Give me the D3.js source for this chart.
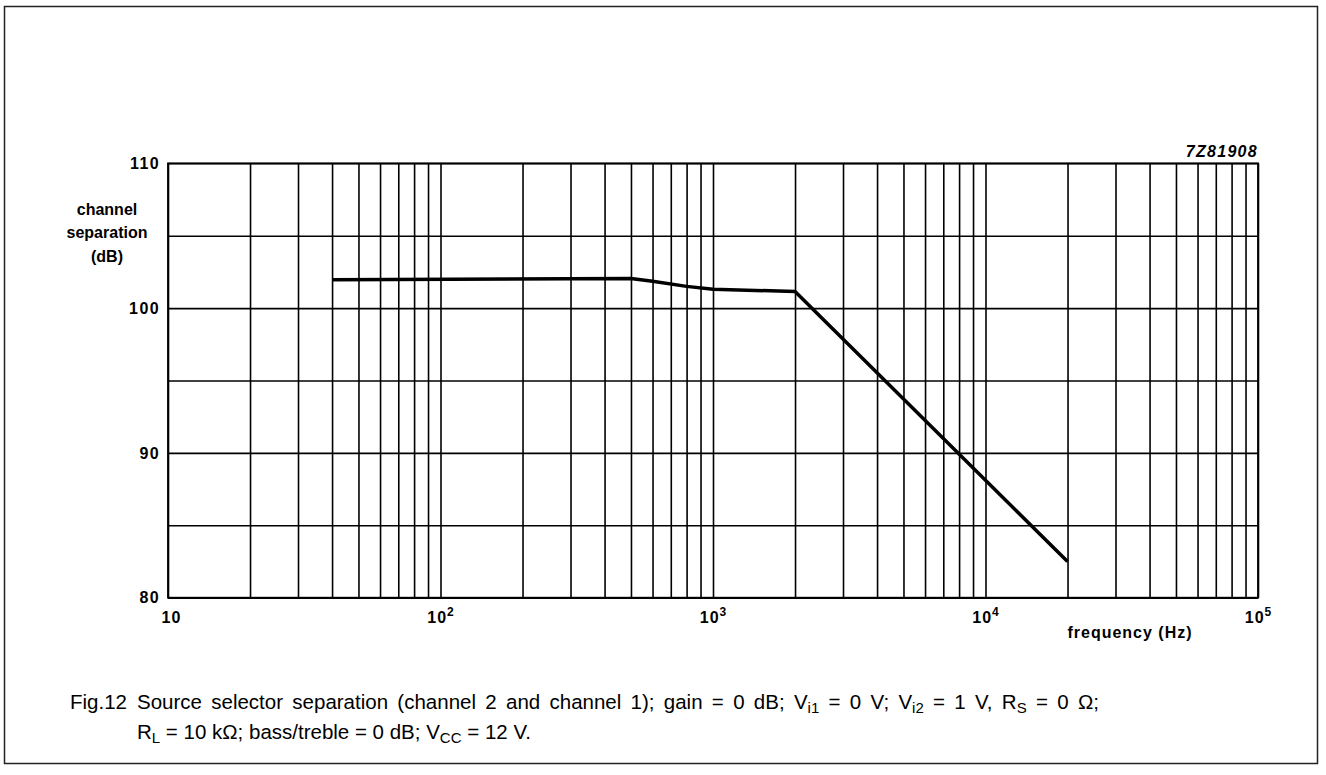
<!doctype html>
<html>
<head>
<meta charset="utf-8">
<title>Source selector separation</title>
<script src="https://cdn.jsdelivr.net/npm/d3@7"></script>
<style>
  body { margin: 0; background: #fff; }
  svg text { font-family: "Liberation Sans", Arial, Helvetica, sans-serif; fill: #000; }
</style>
</head>
<body>
<div id="chart-area"></div>
<script>
  // data
  var freq = [40, 500, 600, 800, 1000, 2000, 20000];
  var separation = [101.95, 102.05, 101.85, 101.5, 101.3, 101.15, 82.5];
  var yLabels = [80, 90, 100, 110];
  var yGridValues = [80, 85, 90, 95, 100, 105, 110];
  var xDecades = [10, 100, 1000, 10000, 100000];
  var xExponents = [1, 2, 3, 4, 5];

  var W = 1326, H = 775;
  var margin = {left: 168, top: 163.3, right: W - 1258, bottom: H - 597.7};
  var width = W - margin.left - margin.right;
  var height = H - margin.top - margin.bottom;

  var svg = d3.select('#chart-area').append('svg')
      .attr('width', W)
      .attr('height', H);

  // outer frame
  svg.append('rect')
      .attr('x', 4.5).attr('y', 6.5)
      .attr('width', 1313).attr('height', 757)
      .attr('fill', 'none')
      .attr('stroke', '#222')
      .attr('stroke-width', 1.5);

  var g = svg.append('g')
      .attr('transform', 'translate(' + margin.left + ',' + margin.top + ')');

  var x = d3.scaleLog().domain([10, 100000]).range([0, width]);
  var y = d3.scaleLinear().domain([80, 110]).range([height, 0]);

  // vertical grid (1..9 per decade)
  var xGrid = g.append('g')
      .attr('transform', 'translate(0,' + height + ')')
      .call(d3.axisBottom(x).ticks(40).tickSize(-height).tickFormat(''));
  xGrid.select('.domain').remove();
  xGrid.selectAll('line').attr('stroke', '#000').attr('stroke-width', 1.6);

  // horizontal grid every 5 dB
  var yGrid = g.append('g')
      .call(d3.axisLeft(y).tickValues(yGridValues).tickSize(-width).tickFormat(''));
  yGrid.select('.domain').remove();
  yGrid.selectAll('line').attr('stroke', '#000').attr('stroke-width', 1.6);

  // plot border
  g.append('rect')
      .attr('width', width).attr('height', height)
      .attr('fill', 'none')
      .attr('stroke', '#000')
      .attr('stroke-width', 1.8);

  // y labels
  var yAxis = g.append('g')
      .call(d3.axisLeft(y).tickValues(yLabels).tickSize(0).tickPadding(8));
  yAxis.select('.domain').remove();
  yAxis.selectAll('text')
      .attr('font-size', '16px')
      .attr('font-weight', 'bold')
      .attr('letter-spacing', '1.4px')
      .attr('font-family', '"Liberation Sans", Arial, sans-serif');

  // x labels 10, 10^2 ...
  var xAxis = g.append('g')
      .attr('transform', 'translate(0,' + height + ')')
      .call(d3.axisBottom(x).tickValues(xDecades).tickSize(0).tickPadding(14).tickFormat(''));
  xAxis.select('.domain').remove();
  xAxis.selectAll('.tick text').each(function(d, i) {
    var t = d3.select(this)
        .attr('font-size', '16px')
        .attr('font-weight', 'bold')
        .attr('letter-spacing', '1px')
        .attr('font-family', '"Liberation Sans", Arial, sans-serif');
    t.append('tspan').text('10');
    if (xExponents[i] > 1) {
      t.append('tspan')
          .attr('font-size', '12px')
          .attr('dy', '-7')
          .text(xExponents[i]);
    } else {
      t.attr('dx', 3);
    }
  });

  // axis titles
  var yTitle = g.append('text')
      .attr('text-anchor', 'middle')
      .attr('font-size', '16px')
      .attr('font-weight', 'bold');
  ['channel', 'separation', '(dB)'].forEach(function(s, i) {
    yTitle.append('tspan')
        .attr('x', 107 - margin.left)
        .attr('y', 215 - margin.top + i * 23.5)
        .text(s);
  });

  g.append('text')
      .attr('x', 1130 - margin.left)
      .attr('y', 638 - margin.top)
      .attr('text-anchor', 'middle')
      .attr('font-size', '16px')
      .attr('font-weight', 'bold')
      .attr('letter-spacing', '1px')
      .text('frequency (Hz)');

  g.append('text')
      .attr('x', width)
      .attr('y', -6)
      .attr('text-anchor', 'end')
      .attr('font-size', '16px')
      .attr('font-weight', 'bold')
      .attr('font-style', 'italic')
      .attr('letter-spacing', '1.3px')
      .text('7Z81908');

  // curve
  var pts = freq.map(function(f, i) { return [f, separation[i]]; });
  var line = d3.line()
      .x(function(d) { return x(d[0]); })
      .y(function(d) { return y(d[1]); });
  g.append('path')
      .datum(pts)
      .attr('d', line)
      .attr('fill', 'none')
      .attr('stroke', '#000')
      .attr('stroke-width', 3.5)
      .attr('stroke-linejoin', 'round');

  // caption (first line justified, so a bit wider word spacing)
  var cap = svg.append('g').attr('font-size', '20.5px');
  var c1 = cap.append('text').attr('x', 70).attr('y', 709);
  c1.append('tspan').text('Fig.12');
  var c1b = c1.append('tspan').attr('x', 137).attr('word-spacing', '3.6px');
  c1b.append('tspan').text('Source selector separation (channel 2 and channel 1); gain = 0 dB; V');
  c1b.append('tspan').attr('font-size', '15px').attr('dy', 4).text('i1');
  c1b.append('tspan').attr('dy', -4).text(' = 0 V; V');
  c1b.append('tspan').attr('font-size', '15px').attr('dy', 4).text('i2');
  c1b.append('tspan').attr('dy', -4).text(' = 1 V, R');
  c1b.append('tspan').attr('font-size', '15px').attr('dy', 4).text('S');
  c1b.append('tspan').attr('dy', -4).text(' = 0 \u03A9;');

  var c2 = cap.append('text').attr('x', 137).attr('y', 739);
  c2.append('tspan').text('R');
  c2.append('tspan').attr('font-size', '15px').attr('dy', 4).text('L');
  c2.append('tspan').attr('dy', -4).text(' = 10 k\u03A9; bass/treble = 0 dB; V');
  c2.append('tspan').attr('font-size', '15px').attr('dy', 4).text('CC');
  c2.append('tspan').attr('dy', -4).text(' = 12 V.');
</script>
</body>
</html>
